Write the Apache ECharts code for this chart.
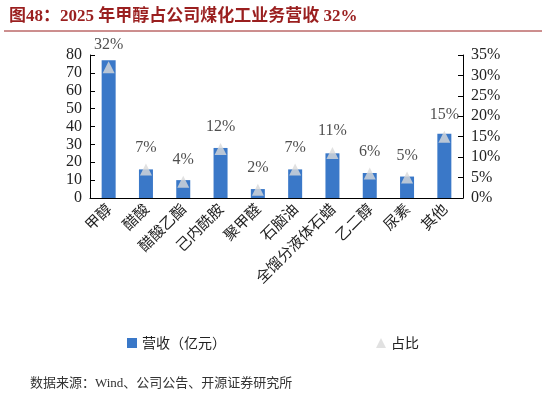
<!DOCTYPE html>
<html><head><meta charset="utf-8">
<script src="https://cdn.jsdelivr.net/npm/echarts@6/dist/echarts.min.js"></script>
<style>body{margin:0}#c{width:546px;height:405px}</style></head>
<body><div id="c"></div>
<script>
const categories=['甲醇','醋酸','醋酸乙酯','己内酰胺','聚甲醛','石脑油','全馏分液体石蜡','乙二醇','尿素','其他'];
const revenue=[77,16,10,28,5,16,25,14,12,36];
const share=[32,7,4,12,2,7,11,6,5,15];
const font='"Noto Sans CJK SC", "Liberation Serif", serif';
const ch=echarts.init(document.getElementById('c'));
ch.setOption({
  animation:false,
  title:{text:'图48：2025 年甲醇占公司煤化工业务营收 32%',left:4,top:3,textStyle:{color:'#9a1f1f',fontSize:17,fontWeight:'bold',fontFamily:'"Liberation Serif","Noto Sans CJK SC",serif'}},
  graphic:[
    {type:'line',shape:{x1:4,y1:31,x2:542,y2:31},style:{stroke:'#9a1f1f',lineWidth:1}},
    {type:'text',left:30,top:377,style:{text:'数据来源：Wind、公司公告、开源证券研究所',fontSize:13,fill:'#333',fontFamily:'"Liberation Serif","Noto Sans CJK SC",serif'}}
  ],
  grid:{left:90,right:83,top:55,bottom:207},
  legend:{bottom:50,itemGap:150,textStyle:{fontSize:14,color:'#222',fontFamily:font},itemWidth:10,itemHeight:10,
    data:[{name:'营收（亿元）',icon:'rect'},{name:'占比',icon:'triangle'}]},
  xAxis:{type:'category',data:categories,axisTick:{show:false},axisLine:{lineStyle:{color:'#000'}},
    axisLabel:{rotate:45,interval:0,fontSize:15,color:'#222',fontFamily:font}},
  yAxis:[
    {type:'value',min:0,max:80,interval:10,splitLine:{show:false},axisLine:{show:true,lineStyle:{color:'#000'}},axisTick:{show:true,inside:true},
      axisLabel:{fontSize:16,color:'#222',fontFamily:'"Liberation Serif",serif'}},
    {type:'value',min:0,max:35,interval:5,splitLine:{show:false},axisLine:{show:true,lineStyle:{color:'#000'}},axisTick:{show:true,inside:true},
      axisLabel:{formatter:'{value}%',fontSize:16,color:'#222',fontFamily:'"Liberation Serif",serif'}}
  ],
  series:[
    {name:'营收（亿元）',type:'bar',data:revenue,barWidth:14,itemStyle:{color:'#3a78c8'}},
    {name:'占比',type:'scatter',yAxisIndex:1,data:share,symbol:'triangle',symbolSize:12,itemStyle:{color:'#d9d9d9'},
      label:{show:true,position:'top',distance:8,formatter:'{c}%',fontSize:16,color:'#222',fontFamily:'"Liberation Serif",serif'}}
  ]
});
</script></body></html>
